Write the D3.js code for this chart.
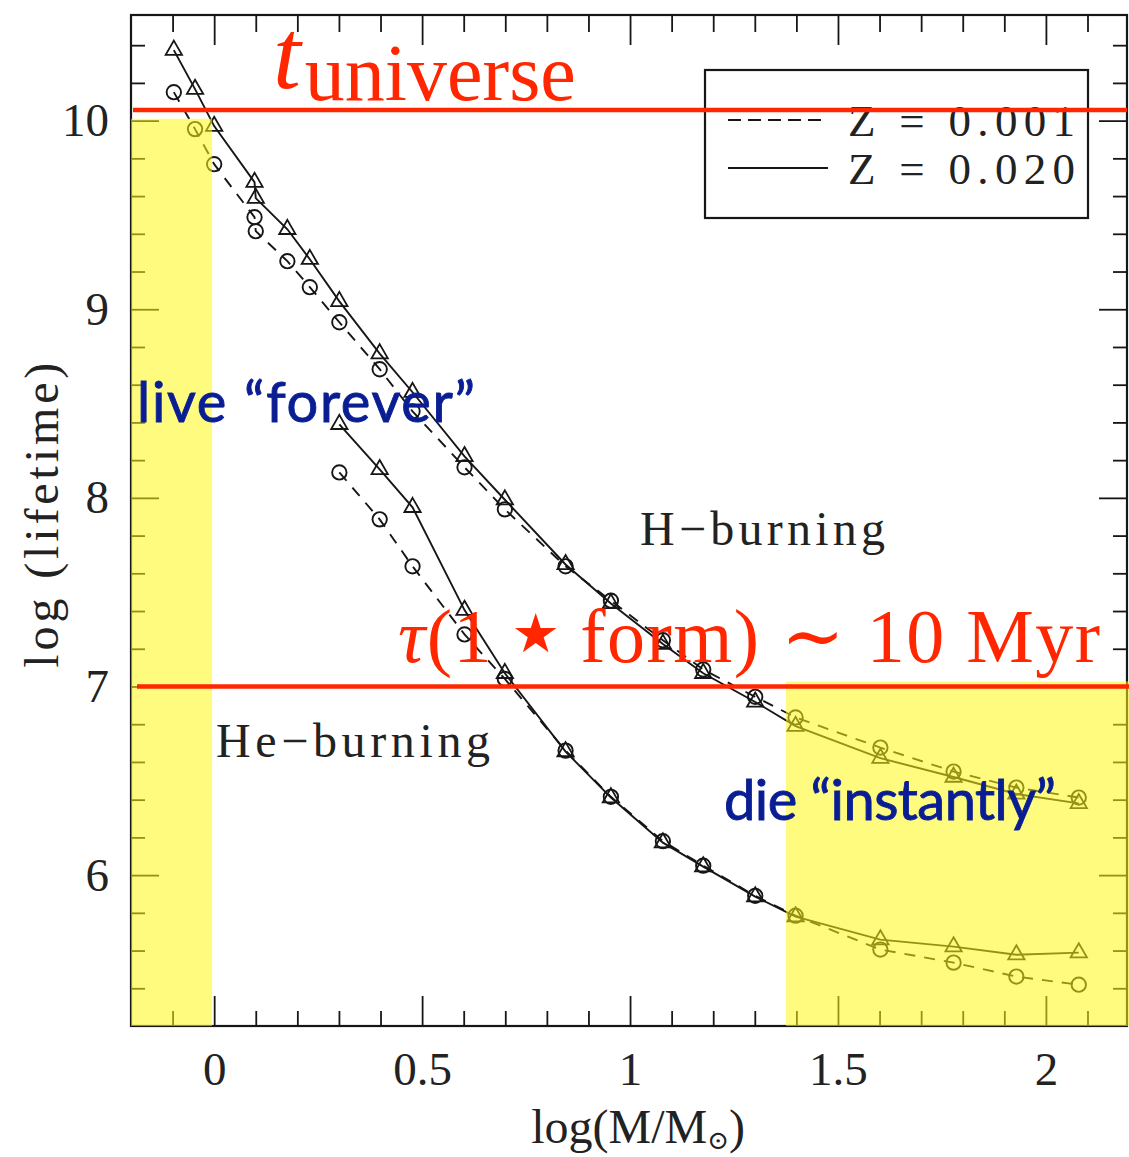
<!DOCTYPE html>
<html>
<head>
<meta charset="utf-8">
<script src="https://cdn.jsdelivr.net/npm/d3@7"></script>
<style>
  body { margin: 0; background: #fff; }
  svg { display: block; }
</style>
</head>
<body>
<svg id="chart" width="1129" height="1157"></svg>
<script>
// log(M/Msun) grid of the stellar models
const logMassH = [-0.097, -0.046, 0, 0.097, 0.1, 0.176, 0.23, 0.301, 0.398, 0.477, 0.602, 0.699,
                  0.845, 0.954, 1.079, 1.176, 1.301, 1.398, 1.602, 1.778, 1.929, 2.079];
// log(lifetime / yr), H-burning phase
const hBurnZ020 = [10.374, 10.167, 9.971, 9.674, 9.589, 9.424, 9.265, 9.042, 8.765, 8.56, 8.22, 7.99,
                   7.647, 7.44, 7.225, 7.07, 6.918, 6.79, 6.62, 6.52, 6.43, 6.38];
const hBurnZ001 = [10.151, 9.955, 9.769, 9.488, 9.414, 9.255, 9.117, 8.931, 8.682, 8.459, 8.162, 7.939,
                   7.637, 7.455, 7.245, 7.09, 6.945, 6.836, 6.676, 6.549, 6.464, 6.411];

const logMassHe = [0.301, 0.398, 0.477, 0.602, 0.699, 0.845, 0.954, 1.079, 1.176, 1.301, 1.398,
                   1.602, 1.778, 1.929, 2.079];
// log(lifetime / yr), He-burning phase
const heBurnZ020 = [8.39, 8.151, 7.95, 7.405, 7.07, 6.655, 6.411, 6.172, 6.045, 5.886, 5.78,
                    5.658, 5.621, 5.578, 5.589];
const heBurnZ001 = [8.135, 7.886, 7.637, 7.276, 7.04, 6.66, 6.415, 6.18, 6.05, 5.89, 5.785,
                    5.605, 5.536, 5.462, 5.419];

// reference timescales (log yr)
const tUniverse = 10.056;
const tStarForm = 7.0;

// shaded regimes: [x0, x1, yLow, yHigh]
const liveForever = [-0.2, -0.005, 5.2, 10.01];
const dieInstantly = [1.375, 2.2, 5.2, 7.027];

const xMajorTicks = [0, 0.5, 1, 1.5, 2];
const xTickLabels = ["0", "0.5", "1", "1.5", "2"];
const yMajorTicks = [6, 7, 8, 9, 10];
const yTickLabels = ["6", "7", "8", "9", "10"];
const legendLabels = ["Z = 0.001", "Z = 0.020"];

const svg = d3.select("#chart");
const plot = { left: 131, right: 1127, top: 15, bottom: 1026 };

const x = d3.scaleLinear().domain([-0.2, 2.195]).range([plot.left, plot.right]);
const y = d3.scaleLinear().domain([5.2, 10.56]).range([plot.bottom, plot.top]);

const serif = "'Liberation Serif', 'DejaVu Serif', serif";
const ink = "#161616";

// ---- axes ----
const xMinor = d3.range(-1, 22).map(i => i / 10).filter(v => !xMajorTicks.some(m => Math.abs(m - v) < 1e-9));
const yMinor = d3.range(27, 53).map(i => i / 5).filter(v => Math.abs(v - Math.round(v)) > 1e-9);

function styleAxis(g) {
  g.select(".domain").remove();
  g.selectAll(".tick line").attr("stroke", ink).attr("stroke-width", 1.8);
  g.selectAll(".tick text").attr("fill", "#222").style("font-family", serif).style("font-size", "47px");
}

const axes = svg.append("g");
axes.append("g").attr("transform", `translate(0,${plot.bottom})`)
  .call(d3.axisBottom(x).tickValues(xMinor).tickSize(-15).tickFormat("")).call(styleAxis);
axes.append("g").attr("transform", `translate(0,${plot.bottom})`)
  .call(d3.axisBottom(x).tickValues(xMajorTicks).tickSize(-30).tickPadding(26)
    .tickFormat((d, i) => xTickLabels[i])).call(styleAxis);
axes.append("g").attr("transform", `translate(0,${plot.top})`)
  .call(d3.axisTop(x).tickValues(xMinor).tickSize(-17).tickFormat("")).call(styleAxis);
axes.append("g").attr("transform", `translate(0,${plot.top})`)
  .call(d3.axisTop(x).tickValues(xMajorTicks).tickSize(-30).tickFormat("")).call(styleAxis);

axes.append("g").attr("transform", `translate(${plot.left},0)`)
  .call(d3.axisLeft(y).tickValues(yMinor).tickSize(-14).tickFormat("")).call(styleAxis);
axes.append("g").attr("transform", `translate(${plot.left},0)`)
  .call(d3.axisLeft(y).tickValues(yMajorTicks).tickSize(-28).tickPadding(22)
    .tickFormat((d, i) => yTickLabels[i])).call(styleAxis);
axes.append("g").attr("transform", `translate(${plot.right},0)`)
  .call(d3.axisRight(y).tickValues(yMinor).tickSize(-14).tickFormat("")).call(styleAxis);
axes.append("g").attr("transform", `translate(${plot.right},0)`)
  .call(d3.axisRight(y).tickValues(yMajorTicks).tickSize(-28).tickFormat("")).call(styleAxis);

axes.append("rect")
  .attr("x", plot.left).attr("y", plot.top)
  .attr("width", plot.right - plot.left).attr("height", plot.bottom - plot.top)
  .attr("fill", "none").attr("stroke", ink).attr("stroke-width", 2.2);

// axis titles
svg.append("text")
  .attr("transform", `translate(58,${(y(8) + y(7)) / 2 - 77}) rotate(-90)`)
  .attr("text-anchor", "middle")
  .style("font-family", serif).style("font-size", "48px").attr("fill", "#222")
  .attr("textLength", 305).attr("lengthAdjust", "spacing")
  .text("log (lifetime)");

const xTitle = svg.append("text")
  .attr("x", x(1) + 8).attr("y", 1143)
  .attr("text-anchor", "middle")
  .style("font-family", serif).style("font-size", "48px").attr("fill", "#222");
xTitle.append("tspan").text("log(M/M");
xTitle.append("tspan").style("font-size", "26px").attr("dy", 6).text("⊙");
xTitle.append("tspan").attr("dy", -6).text(")");

// ---- curves ----
const line = d3.line().x(d => x(d[0])).y(d => y(d[1]));
const series = [
  { mass: logMassH, life: hBurnZ001, dashed: true, marker: "circle" },
  { mass: logMassH, life: hBurnZ020, dashed: false, marker: "triangle" },
  { mass: logMassHe, life: heBurnZ001, dashed: true, marker: "circle" },
  { mass: logMassHe, life: heBurnZ020, dashed: false, marker: "triangle" }
];

const curves = svg.append("g");
const triPath = d3.symbol(d3.symbolTriangle, 115)();
series.forEach(s => {
  const pts = s.mass.map((m, i) => [m, s.life[i]]);
  curves.append("path")
    .attr("d", line(pts))
    .attr("fill", "none").attr("stroke", ink).attr("stroke-width", 1.9)
    .attr("stroke-dasharray", s.dashed ? "11,9" : null);
  const g = curves.append("g");
  if (s.marker === "circle") {
    g.selectAll("circle").data(pts).join("circle")
      .attr("cx", d => x(d[0])).attr("cy", d => y(d[1])).attr("r", 7.2)
      .attr("fill", "none").attr("stroke", ink).attr("stroke-width", 1.9);
  } else {
    g.selectAll("path").data(pts).join("path")
      .attr("d", triPath)
      .attr("transform", d => `translate(${x(d[0])},${y(d[1])})`)
      .attr("fill", "none").attr("stroke", ink).attr("stroke-width", 1.8);
  }
});

// ---- legend ----
const legend = svg.append("g");
legend.append("rect").attr("x", 705).attr("y", 70).attr("width", 383).attr("height", 148)
  .attr("fill", "none").attr("stroke", ink).attr("stroke-width", 2.2);
legendLabels.forEach((lab, i) => {
  const ly = 120 + i * 48;
  legend.append("line").attr("x1", 728).attr("x2", 828).attr("y1", ly).attr("y2", ly)
    .attr("stroke", ink).attr("stroke-width", 2.2)
    .attr("stroke-dasharray", i === 0 ? "13,7" : null);
  legend.append("text").attr("x", 848).attr("y", ly + 16)
    .style("font-family", serif).style("font-size", "45px").attr("fill", "#222")
    .attr("textLength", 227).attr("lengthAdjust", "spacing")
    .text(lab);
});

// phase labels
svg.append("text").attr("x", 640).attr("y", 545)
  .style("font-family", serif).style("font-size", "48px").attr("fill", "#222")
  .attr("textLength", 245).attr("lengthAdjust", "spacing")
  .text("H−burning");
svg.append("text").attr("x", 216).attr("y", 757)
  .style("font-family", serif).style("font-size", "48px").attr("fill", "#222")
  .attr("textLength", 274).attr("lengthAdjust", "spacing")
  .text("He−burning");

// ---- shaded regimes (translucent yellow over the curves) ----
const shade = svg.append("g");
[liveForever, dieInstantly].forEach(r => {
  shade.append("rect")
    .attr("x", x(r[0])).attr("y", y(r[3]))
    .attr("width", Math.min(x(r[1]), 1129) - x(r[0]))
    .attr("height", y(r[2]) - y(r[3]))
    .attr("fill", "#fff714").attr("fill-opacity", 0.55);
});

// ---- reference timescales ----
const red = "#ff2600";
svg.append("line").attr("x1", plot.left + 2).attr("x2", plot.right)
  .attr("y1", y(tUniverse)).attr("y2", y(tUniverse))
  .attr("stroke", red).attr("stroke-width", 4.5);
svg.append("line").attr("x1", plot.left + 6).attr("x2", 1129)
  .attr("y1", y(tStarForm)).attr("y2", y(tStarForm))
  .attr("stroke", red).attr("stroke-width", 4.5);

const tLab = svg.append("text").attr("x", 273).attr("y", 88)
  .style("font-family", serif).attr("fill", red);
tLab.append("tspan").style("font-style", "italic").style("font-size", "100px").text("t");
tLab.append("tspan").style("font-size", "80px").attr("dx", 4).attr("dy", 12).text("universe");

const tauLab = svg.append("text").attr("x", 398).attr("y", 662)
  .style("font-family", serif).style("font-size", "76px").attr("fill", red)
  .attr("textLength", 702).attr("lengthAdjust", "spacing");
tauLab.append("tspan").style("font-style", "italic").text("τ");
tauLab.append("tspan").text("(1");
tauLab.append("tspan").style("font-size", "54px").attr("dy", -10)
  .style("font-family", "'DejaVu Sans', sans-serif").text(" ★ ");
tauLab.append("tspan").attr("dy", 10).text("form) ∼ 10 Myr");

// ---- regime annotations ----
const blue = "#0a1e94";
const sans = "Lato, 'Open Sans', 'Noto Sans', sans-serif";
svg.append("text").attr("x", 137).attr("y", 422)
  .style("font-family", sans).style("font-size", "56px").attr("fill", blue)
  .attr("stroke", blue).attr("stroke-width", 0.9)
  .attr("textLength", 338).attr("lengthAdjust", "spacing")
  .text("live “forever”");
svg.append("text").attr("x", 724).attr("y", 820)
  .style("font-family", sans).style("font-size", "56px").attr("fill", blue)
  .attr("stroke", blue).attr("stroke-width", 0.9)
  .attr("textLength", 332).attr("lengthAdjust", "spacing")
  .text("die “instantly”");
</script>
</body>
</html>
